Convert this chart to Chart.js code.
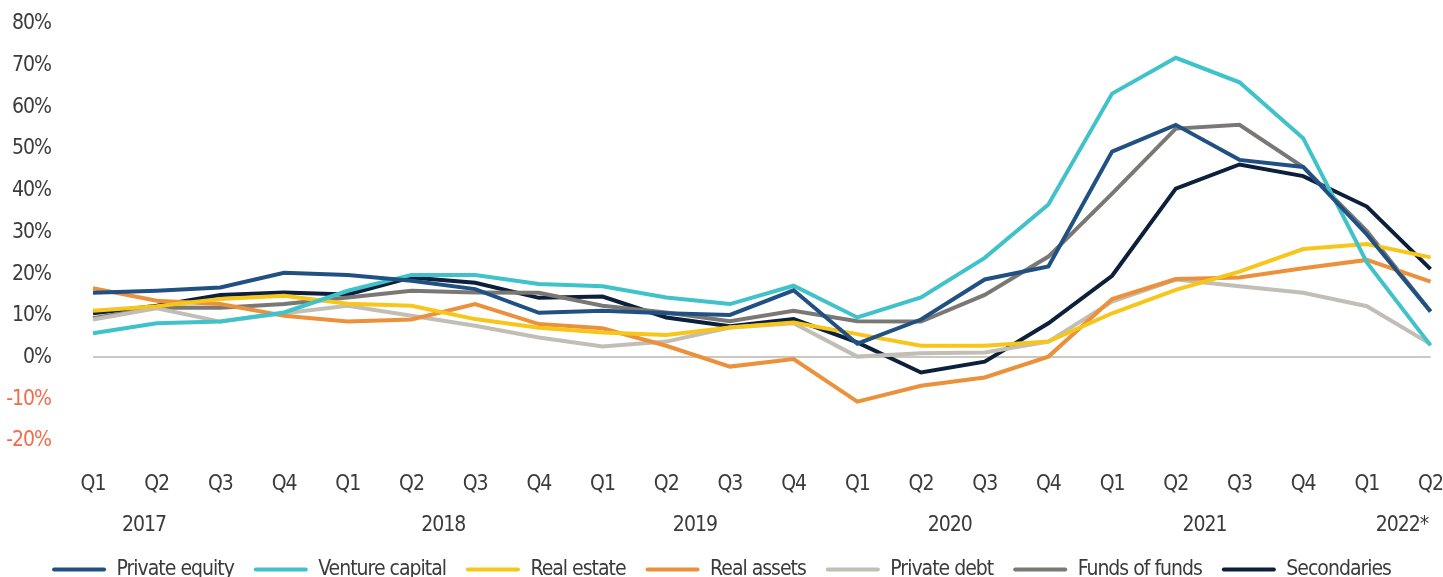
<!DOCTYPE html>
<html>
<head>
<meta charset="utf-8">
<script src="https://cdn.jsdelivr.net/npm/chart.js@4"></script>
<style>
    html, body { margin: 0; padding: 0; background: #fff; overflow: hidden; }
    #wrap { width: 1443px; height: 590px; position: relative; }
</style>
</head>
<body>
<div id="wrap"><canvas id="LineChart"></canvas></div>
<script>
// Quarter labels for the x axis, Q1 2017 to Q2 2022.
const quarters = ["Q1", "Q2", "Q3", "Q4", "Q1", "Q2", "Q3", "Q4", "Q1", "Q2", "Q3", "Q4",
    "Q1", "Q2", "Q3", "Q4", "Q1", "Q2", "Q3", "Q4", "Q1", "Q2"];
// Year labels under the quarters and the quarter index each one sits at.
const years = ["2017", "2018", "2019", "2020", "2021", "2022*"];
const yearCenters = [0.8, 5.5, 9.45, 13.45, 17.45, 20.55];
// Y axis tick values (percent).
const yTicks = [80, 70, 60, 50, 40, 30, 20, 10, 0, -10, -20];

// Series values in percent.
const privateEquity = [15.5, 16, 16.8, 20.3, 19.8, 18.4, 16.4, 10.7, 11.2, 10.6, 10.2, 16.1, 3.3, 9.1, 18.7, 21.8, 49.4, 55.8, 47.4, 45.7, 29.5, 11];
const ventureCapital = [5.8, 8.2, 8.6, 10.8, 16, 19.8, 19.8, 17.6, 17.1, 14.4, 12.8, 17.2, 9.6, 14.4, 23.9, 36.7, 63.3, 71.9, 66, 52.6, 22.8, 2.9];
const realEstate = [11.2, 12.3, 14, 14.8, 12.9, 12.4, 9.2, 7.1, 6, 5.4, 7.2, 8.4, 5.6, 2.8, 2.8, 3.8, 10.6, 16.2, 20.6, 26, 27.2, 24];
const realAssets = [16.6, 13.6, 12.8, 10, 8.6, 9.1, 12.8, 8, 7, 2.8, -2.2, -0.4, -10.6, -6.8, -4.8, 0.2, 14, 18.8, 19.2, 21.4, 23.4, 18.2];
const privateDebt = [9.1, 11.8, 8.6, 10.6, 12.4, 10, 7.6, 4.8, 2.6, 3.8, 7.2, 8.2, 0.2, 1.0, 1.2, 3.8, 13.4, 18.7, 17.1, 15.5, 12.3, 3.2];
const fundsOfFunds = [9.4, 12, 11.9, 12.8, 14.4, 16, 15.6, 15.5, 12.4, 10.8, 8.7, 11.2, 8.7, 8.6, 15, 24.2, 39.3, 54.9, 55.8, 45.7, 30.3, 11];
const secondaries = [10.6, 12.4, 15, 15.6, 15.1, 19.2, 17.9, 14.3, 14.6, 9.6, 7.5, 9.2, 3.6, -3.6, -1.0, 8.2, 19.6, 40.5, 46.3, 43.5, 36.2, 21.2];

const FONT = "'DejaVu Sans Condensed', 'DejaVu Sans', sans-serif";
const FONT_SIZE = 21;
const TEXT = "#3b3b3b";
const NEG = "#f26b4a";

function series(label, data, color) {
    return {
        label: label,
        data: data,
        borderColor: color,
        backgroundColor: color,
        borderWidth: 4,
        pointRadius: 0,
        tension: 0,
        borderJoinStyle: "miter"
    };
}

// The reference uses a narrow typeface, so tighten the letters a little.
// Canvas state is reset on resize, so set it again before layout and draw.
function tighten(chart) {
    chart.ctx.letterSpacing = "-1px";
}
const narrowText = {
    id: "narrowText",
    beforeUpdate: tighten,
    beforeLayout: tighten,
    beforeDraw: tighten
};

// Draws the year row under the quarter labels, placed by the x scale.
const yearRow = {
    id: "yearRow",
    afterDraw(chart) {
        const x = chart.scales.x;
        const ctx = chart.ctx;
        ctx.save();
        ctx.font = FONT_SIZE + "px " + FONT;
        ctx.fillStyle = TEXT;
        ctx.textAlign = "center";
        ctx.textBaseline = "middle";
        for (let i = 0; i < years.length; i++) {
            ctx.fillText(years[i], x.getPixelForValue(yearCenters[i]), x.top + 85);
        }
        ctx.restore();
    }
};

const chart = new Chart(document.getElementById("LineChart"), {
    type: "line",
    data: {
        labels: quarters,
        datasets: [
            series("Private equity", privateEquity, "#215183"),
            series("Venture capital", ventureCapital, "#3fc2c9"),
            series("Real estate", realEstate, "#f7c61b"),
            series("Real assets", realAssets, "#eb913b"),
            series("Private debt", privateDebt, "#c2beb6"),
            series("Funds of funds", fundsOfFunds, "#7a7874"),
            series("Secondaries", secondaries, "#0c1f3b")
        ]
    },
    plugins: [narrowText, yearRow],
    options: {
        responsive: true,
        maintainAspectRatio: false,
        animation: false,
        layout: { padding: { top: 24, right: 0, left: 0, bottom: 0 } },
        plugins: {
            tooltip: { enabled: false },
            legend: {
                position: "bottom",
                labels: {
                    font: { family: FONT, size: FONT_SIZE },
                    color: TEXT,
                    boxWidth: 54,
                    boxHeight: 4,
                    padding: 20,
                    useBorderRadius: true,
                    borderRadius: 2,
                    generateLabels(c) {
                        return Chart.defaults.plugins.legend.labels.generateLabels(c).map(function (l) {
                            l.lineWidth = 0;
                            return l;
                        });
                    }
                }
            }
        },
        scales: {
            x: {
                offset: false,
                // Hidden tick marks push the quarter labels down without
                // widening the right edge like ticks.padding does.
                grid: { display: false, drawTicks: true, tickLength: 31 },
                border: { display: false },
                ticks: {
                    font: { family: FONT, size: FONT_SIZE },
                    color: TEXT,
                    padding: 0,
                    maxRotation: 0,
                    autoSkip: false
                },
                afterFit(scale) { scale.height += 42; }
            },
            y: {
                position: "left",
                weight: 1,
                min: -20,
                max: 80,
                afterBuildTicks(scale) { scale.ticks = yTicks.map(v => ({ value: v })); },
                afterFit(scale) { scale.width = 51; },
                grid: {
                    drawTicks: false,
                    lineWidth: 2,
                    color: ctx => (ctx.tick && ctx.tick.value === 0 ? "#cbc8c2" : "rgba(0,0,0,0)")
                },
                border: { display: false },
                ticks: {
                    font: { family: FONT, size: FONT_SIZE },
                    color: ctx => (ctx.tick.value < 0 ? NEG : TEXT),
                    padding: 0,
                    callback: v => v + "%"
                }
            },
            // Empty axis that only keeps the gap between the tick labels and the plot.
            gap: {
                type: "linear",
                position: "left",
                weight: 0,
                ticks: { display: false },
                grid: { display: false, drawTicks: false },
                border: { display: false },
                afterFit(scale) { scale.width = 42; }
            }
        }
    }
});
</script>
</body>
</html>
